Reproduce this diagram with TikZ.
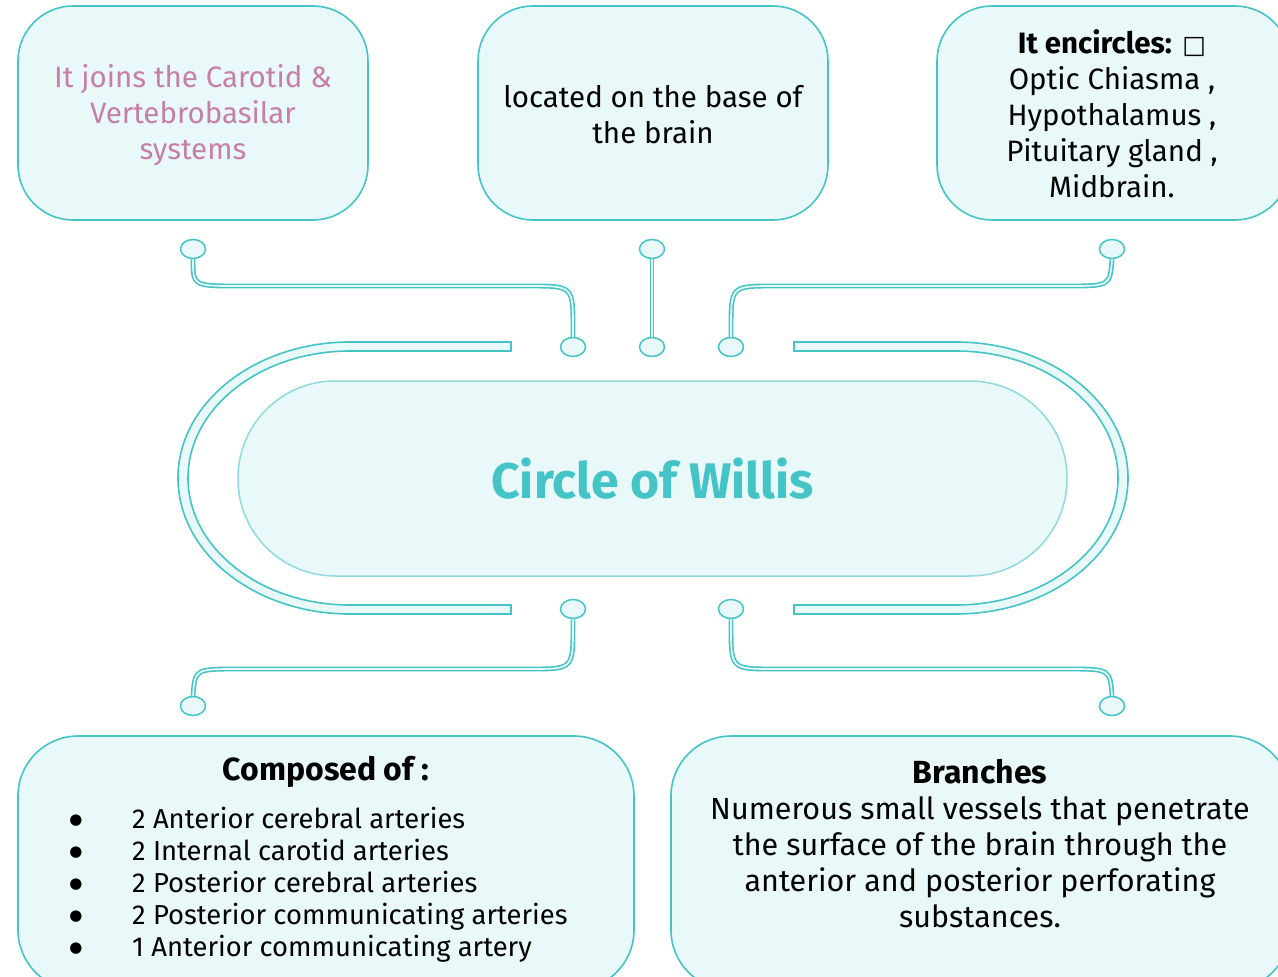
\documentclass[tikz,border=0pt]{standalone}
\usepackage{fontspec}
\setmainfont{Fira Sans}
\newfontfamily\symfont{DejaVu Sans}
\usetikzlibrary{shapes.geometric}
\definecolor{tealline}{HTML}{45C4C8}
\definecolor{paleC}{HTML}{E9F8F8}
\definecolor{rim}{HTML}{8FDADC}
\definecolor{rose}{HTML}{C67FA6}
\begin{document}
\begin{tikzpicture}[x=1pt,y=-1pt,
  infobox/.style={draw=tealline, line width=1.6pt, fill=paleC, rounded corners=#1, inner sep=0pt},
  txt/.style={inner sep=0pt, align=center, font=\fontsize{29.5}{36}\selectfont},
  widetxt/.style={inner sep=0pt, align=center, font=\fontsize{30.5}{36}\selectfont},
  listtxt/.style={inner sep=0pt, align=left, font=\fontsize{27.4}{32}\selectfont},
  headtxt/.style={inner sep=0pt, font=\fontsize{32}{36}\selectfont\bfseries},
  dot/.style={ellipse, draw=tealline, fill=paleC, line width=1.5pt, minimum width=25pt, minimum height=19pt, inner sep=0pt},
  link/.style={draw=tealline, line width=1.6pt, double=paleC, double distance=1.7pt},
  band/.style={draw=tealline, fill=paleC, line width=1.6pt}
]
\useasboundingbox (0,0) rectangle (1278,977);
\clip (0,0) rectangle (1278,977);

% information boxes
\node[infobox=55pt, minimum width=350pt, minimum height=214pt] (joins) at (193,113) {};
\node[infobox=55pt, minimum width=350pt, minimum height=214pt] (base) at (653,113) {};
\node[infobox=55pt, minimum width=353pt, minimum height=214pt] (encircles) at (1113.5,113) {};
\node[infobox=60pt, minimum width=616pt, minimum height=254pt] (composed) at (326,863) {};
\node[infobox=60pt, minimum width=619pt, minimum height=254pt] (branches) at (980.5,863) {};

\node[txt, text=rose] (joinsT) at (193,115) {It joins the Carotid \&\\Vertebrobasilar\\systems};
\node[txt] (baseT) at (653,115) {located on the base of\\the brain};
\node[txt] (encT) at (1112,114) {\textbf{It encircles:} {\symfont\fontsize{25}{36}\selectfont □}\\Optic Chiasma ,\\Hypothalamus ,\\Pituitary gland ,\\Midbrain.};
\node[headtxt] (compT) at (326,772) {Composed of :};
\node[listtxt, font=\symfont\fontsize{15}{32}\selectfont] (bulletsT) at (76,885) {●\\●\\●\\●\\●};
\node[listtxt, anchor=west] (itemsT) at (132,885) {2 Anterior cerebral arteries\\2 Internal carotid arteries\\2 Posterior cerebral arteries\\2 Posterior communicating arteries\\1 Anterior communicating artery};
\node[widetxt] (branchT) at (980,862) {Numerous small vessels that penetrate\\the surface of the brain through the\\anterior and posterior perforating\\substances.};
\node[headtxt] (branchH) at (980,772) {Branches};

% outer band around the centre, open at top and bottom
\draw[band] (511,342) -- (350,342) arc[start angle=270, end angle=90, x radius=172, y radius=136]
  -- (511,614) -- (511,605) -- (350,605) arc[start angle=90, end angle=270, x radius=162, y radius=127]
  -- (511,351) -- cycle;
\draw[band] (794,342) -- (956,342) arc[start angle=270, end angle=450, x radius=172, y radius=136]
  -- (794,614) -- (794,605) -- (956,605) arc[start angle=90, end angle=-90, x radius=162, y radius=127]
  -- (794,351) -- cycle;

% central node
\node[draw=rim, line width=1.5pt, fill=paleC, rounded corners=97pt, minimum width=829pt, minimum height=195pt,
      text=tealline, font=\fontsize{50}{56}\selectfont\bfseries] (willis) at (652.5,478.5) {Circle of Willis};

% connector ends
\node[dot] (d1) at (193,249) {};
\node[dot] (d2) at (573,347) {};
\node[dot] (d3) at (652,249) {};
\node[dot] (d4) at (652,347) {};
\node[dot] (d5) at (731,347) {};
\node[dot] (d6) at (1112,249) {};
\node[dot] (d7) at (573,609) {};
\node[dot] (d8) at (193,706) {};
\node[dot] (d9) at (731,609) {};
\node[dot] (d10) at (1112,706) {};

% connectors
\draw[link] (d1.south) .. controls (193,286) .. (238,286) -- (530,286) .. controls (573,286) .. (573,329) -- (d2.north);
\draw[link] (d3.south) -- (d4.north);
\draw[link] (d5.north) -- (731,329) .. controls (731,286) .. (774,286) -- (1067,286) .. controls (1110,286) .. (d6.south);
\draw[link] (d7.south) -- (573,626) .. controls (573,669) .. (530,669) -- (238,669) .. controls (195,669) .. (d8.north);
\draw[link] (d9.south) -- (731,626) .. controls (731,669) .. (774,669) -- (1067,669) .. controls (1110,669) .. (d10.north);
\end{tikzpicture}
\end{document}
